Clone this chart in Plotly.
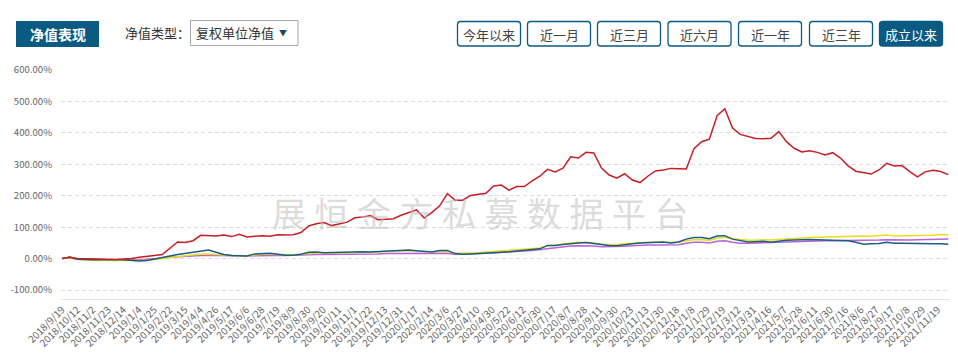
import numpy as np
import plotly.graph_objects as go

# ---------------- data ----------------
tick_dates = [
    "2018/9/19", "2018/10/12", "2018/11/2", "2018/11/23", "2018/12/14",
    "2019/1/4", "2019/1/25", "2019/2/22", "2019/3/15", "2019/4/4", "2019/4/26",
    "2019/5/17", "2019/6/6", "2019/6/28", "2019/7/19", "2019/8/9", "2019/8/30",
    "2019/9/20", "2019/10/11", "2019/11/1", "2019/11/22", "2019/12/13", "2019/12/31",
    "2020/1/17", "2020/2/14", "2020/3/6", "2020/3/27", "2020/4/10", "2020/4/30",
    "2020/5/22", "2020/6/12", "2020/6/30", "2020/7/17", "2020/8/7", "2020/8/28",
    "2020/9/11", "2020/9/30", "2020/10/23", "2020/11/13", "2020/11/30", "2020/12/18",
    "2021/1/8", "2021/1/29", "2021/2/19", "2021/3/12", "2021/3/31", "2021/4/16",
    "2021/5/7", "2021/5/28", "2021/6/11", "2021/6/30", "2021/7/16", "2021/8/6",
    "2021/8/27", "2021/9/17", "2021/10/8", "2021/10/29", "2021/11/19",
]
weeks_per_tick = 3
weeks_per_sample = 1.505

fund_red = [
    0, 4, 0, -1, -1, -2, -4, -3, -1, 0, 4, 8, 10, 13, 32, 53, 51, 57, 74, 72,
    72, 75, 70, 77, 69, 71, 73, 71, 76, 75, 76, 83, 104, 111, 115, 105, 111, 116, 130, 132,
    137, 124, 125, 127, 138, 146, 155, 129, 147, 168, 207, 186, 186, 201, 205, 208, 231, 234, 218, 229,
    229, 247, 262, 284, 276, 288, 324, 320, 338, 336, 288, 266, 256, 270, 250, 242, 262, 279, 282, 287,
    286, 285, 350, 372, 380, 455, 477, 415, 395, 388, 382, 381, 383, 404, 372, 351, 339, 343, 338, 330,
    337, 320, 295, 278, 274, 269, 282, 303, 295, 296, 277, 260, 276, 281, 277, 267,
]
fund_blue = [
    0, 5, -2, -4, -4, -4, -3, -4, -4, -6, -8, -6, -2, 2, 8, 13, 16, 20, 24, 27,
    20, 13, 10, 8, 8, 15, 17, 17, 14, 11, 11, 14, 20, 21, 19, 20, 19, 21, 22, 22,
    21, 22, 24, 25, 26, 27, 25, 22, 21, 26, 26, 16, 14, 15, 16, 18, 20, 20, 22, 24,
    26, 28, 31, 42, 42, 45, 48, 50, 51, 48, 43, 42, 41, 45, 47, 50, 51, 52, 53, 50,
    53, 62, 67, 67, 63, 72, 73, 62, 58, 53, 54, 55, 52, 56, 58, 59, 61, 61, 60, 59,
    59, 58, 57, 52, 46, 47, 48, 52, 49, 49, 48, 49, 48, 47, 47, 46,
]
fund_yellow = [
    0, 3, -2, -5, -6, -6, -5, -6, -5, -6, -6, -5, -3, 0, 4, 8, 10, 12, 14, 15,
    13, 11, 10, 9, 9, 12, 14, 14, 13, 12, 12, 14, 17, 18, 18, 18, 18, 19, 20, 20,
    20, 21, 23, 24, 24, 25, 24, 22, 20, 23, 23, 17, 17, 18, 19, 21, 23, 23, 25, 27,
    29, 31, 34, 40, 44, 47, 50, 52, 52, 50, 46, 45, 45, 47, 49, 51, 52, 52, 52, 51,
    52, 57, 60, 60, 58, 65, 68, 63, 60, 58, 58, 60, 59, 61, 62, 63, 66, 67, 68, 69,
    70, 71, 72, 71, 72, 71, 73, 75, 72, 72, 72, 72, 73, 74, 76, 76,
]
fund_purple = [
    0, 2, -2, -3, -4, -4, -4, -4, -3, -4, -4, -3, -1, 1, 4, 6, 8, 9, 10, 11,
    10, 9, 8, 8, 8, 9, 10, 10, 10, 10, 10, 11, 12, 13, 13, 13, 13, 14, 14, 14,
    14, 15, 16, 16, 17, 17, 17, 16, 16, 17, 17, 14, 14, 15, 16, 17, 18, 19, 20, 22,
    24, 26, 29, 33, 36, 38, 40, 41, 41, 40, 38, 38, 38, 39, 41, 43, 43, 43, 43, 42,
    44, 49, 52, 52, 50, 55, 57, 52, 49, 49, 50, 51, 51, 52, 53, 54, 55, 56, 57, 57,
    57, 57, 58, 58, 58, 58, 59, 60, 59, 59, 59, 60, 60, 61, 61, 62,
]
y_ticks = [-100, 0, 100, 200, 300, 400, 500, 600]

buttons = ["今年以来", "近一月", "近三月", "近六月", "近一年", "近三年", "成立以来"]

# ---------------- figure ----------------
# the page body has an 8px margin, so the figure is drawn offset by 8px
OFF = 8
VW, VH = 958, 363
W, H = VW - OFF, VH - OFF
# plot area in reference (viewport) pixels
L, R, T, B = 61, 951, 70, 299
FONT = "Microsoft YaHei, Noto Sans CJK SC, sans-serif"
DARK = "#0b5a82"


def pxx(x):
    return (x - L) / (R - L)


def pxy(y):
    return (B - y) / (B - T)


def rounded(x0, y0, x1, y1, r=3):
    def p(x, y):
        return f"{pxx(x):.5f},{pxy(y):.5f}"
    return (f"M{p(x0 + r, y0)} L{p(x1 - r, y0)} Q{p(x1, y0)} {p(x1, y0 + r)} "
            f"L{p(x1, y1 - r)} Q{p(x1, y1)} {p(x1 - r, y1)} L{p(x0 + r, y1)} "
            f"Q{p(x0, y1)} {p(x0, y1 - r)} L{p(x0, y0 + r)} Q{p(x0, y0)} {p(x0 + r, y0)} Z")


def label(text, x, y, size=13, color="#333333", xanchor="center"):
    return dict(text=text, xref="paper", yref="paper", x=pxx(x), y=pxy(y),
                xanchor=xanchor, yanchor="middle", showarrow=False,
                font=dict(family=FONT, size=size, color=color))


x = np.arange(len(fund_red)) * weeks_per_sample

fig = go.Figure()
series = [
    (fund_purple, "#b862dd"),
    (fund_yellow, "#e6e01c"),
    (fund_blue, "#1c5c84"),
    (fund_red, "#c81e26"),
]
for vals, col in series:
    fig.add_trace(go.Scatter(x=x, y=vals, mode="lines",
                             line=dict(color=col, width=1.5), hoverinfo="skip",
                             showlegend=False))

shapes = []
annotations = []

# top page border
shapes.append(dict(type="line", xref="paper", yref="paper",
                   x0=pxx(0), x1=pxx(VW), y0=pxy(0.5), y1=pxy(0.5),
                   line=dict(color="#cccccc", width=1)))

# title box
shapes.append(dict(type="rect", xref="paper", yref="paper", layer="below",
                   x0=pxx(16), x1=pxx(99), y0=pxy(21), y1=pxy(47),
                   fillcolor=DARK, line=dict(width=0)))
annotations.append(label("<b>净值表现</b>", 57.5, 34, size=14, color="white"))

# type label and dropdown
annotations.append(label("净值类型：", 123, 33, xanchor="left"))
shapes.append(dict(type="rect", xref="paper", yref="paper", layer="below",
                   x0=pxx(190.5), x1=pxx(298), y0=pxy(20.5), y1=pxy(45.5),
                   fillcolor="white", line=dict(color="#a8a8a8", width=1)))
annotations.append(label("复权单位净值", 194, 33, xanchor="left"))
annotations.append(label("▼", 283, 33, size=8, color="#1d4b6e"))

# range buttons
btn_left = [457.5, 527.5, 597.5, 668, 738.5, 809.5, 879.5]
for i, (lbl, bx) in enumerate(zip(buttons, btn_left)):
    active = i == len(buttons) - 1
    shapes.append(dict(type="path", xref="paper", yref="paper", layer="below",
                       path=rounded(bx, 21.5, bx + 63, 46),
                       fillcolor=DARK if active else "white",
                       line=dict(color=DARK, width=1.3)))
    annotations.append(label(lbl, bx + 31.5, 34,
                             color="white" if active else "#444444"))

# watermark
annotations.append(label("\u2005".join("展恒金方私募数据平台"), 480, 212,
                         size=34, color="rgba(190,190,190,0.55)"))

fig.update_layout(
    width=W, height=H, autosize=False,
    margin=dict(l=L - OFF, r=VW - R, t=T - OFF, b=VH - B, pad=0, autoexpand=False),
    paper_bgcolor="white", plot_bgcolor="rgba(0,0,0,0)",
    font=dict(family=FONT, color="#666666"),
    shapes=shapes, annotations=annotations,
    xaxis=dict(
        range=[-0.2, 173.6], showgrid=False, zeroline=False, automargin=False,
        showline=True, linecolor="#dfe4ee", linewidth=1,
        tickmode="array",
        tickvals=[i * weeks_per_tick for i in range(len(tick_dates))],
        ticktext=tick_dates, tickangle=-45, ticks="",
        tickfont=dict(size=10, color="#666666"),
    ),
    yaxis=dict(
        range=[-128.5, 600], zeroline=False, showline=False, automargin=False,
        tickmode="array", tickvals=y_ticks,
        ticktext=[f"{v:.2f}%" for v in y_ticks],
        showgrid=True, gridcolor="#dcdcdc", griddash="4px,3px", gridwidth=1,
        tickfont=dict(size=9.6, color="#666666"), ticks="",
        ticklabelstandoff=8,
    ),
)

fig.write_html("out.html")
